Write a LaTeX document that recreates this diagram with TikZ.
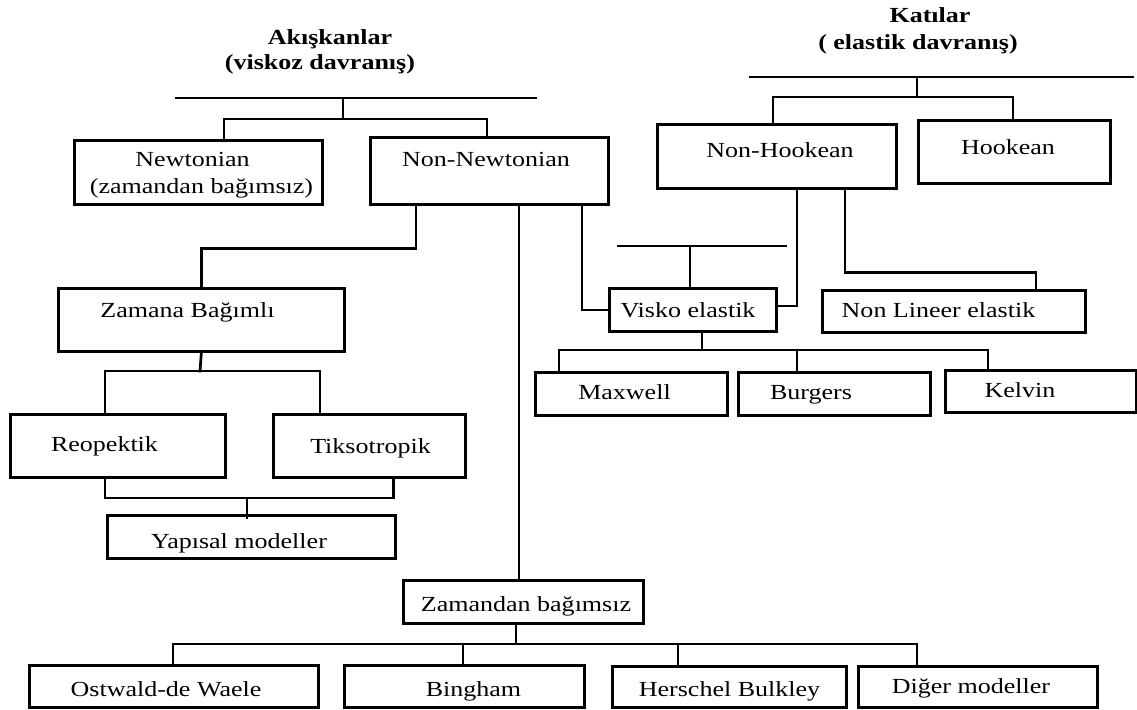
\documentclass[tikz,border=0pt]{standalone}
\usepackage{fontspec}
\setmainfont{Liberation Serif}[FakeStretch=1.21]
\usetikzlibrary{calc}

\tikzset{
  wire/.style={line width=2.7pt, line cap=rect},
  box/.style={draw, line width=2.7pt, inner sep=0pt, anchor=north west},
  lbl/.style={anchor=base, inner sep=0pt, font=\fontsize{21.5}{25}\selectfont},
  ttl/.style={anchor=base, inner sep=0pt, font=\fontsize{21.5}{25}\selectfont\bfseries},
}

\begin{document}
\begin{tikzpicture}[x=1pt, y=-1pt]
\useasboundingbox (0,0) rectangle (1137,709);

% ---------- headings ----------
\node[ttl] (akis)  at (330,45) {Akışkanlar};
\node[ttl] (akis2) at (320,70) {(viskoz davranış)};
\node[ttl] (kati)  at (930,23) {Katılar};
\node[ttl] (kati2) at (918,49) {( elastik davranış)};

% ---------- boxes ----------
\node[box, minimum width=248pt, minimum height=64pt] (newt) at (73,139) {};
\node[box, minimum width=238pt, minimum height=67pt] (nn)   at (369,136) {};
\node[box, minimum width=239pt, minimum height=64pt] (nh)   at (656,123) {};
\node[box, minimum width=192pt, minimum height=63pt] (hk)   at (917,119) {};
\node[box, minimum width=286pt, minimum height=63pt] (zb)   at (57,287) {};
\node[box, minimum width=167pt, minimum height=43pt] (ve)   at (608,287) {};
\node[box, minimum width=263pt, minimum height=42pt] (nl)   at (821,289) {};
\node[box, minimum width=192pt, minimum height=43pt] (mx)   at (534,371) {};
\node[box, minimum width=192pt, minimum height=43pt] (bg)   at (737,371) {};
\node[box, minimum width=191pt, minimum height=42pt] (kv)   at (944,369) {};
\node[box, minimum width=215pt, minimum height=63pt] (re)   at (9,413) {};
\node[box, minimum width=192pt, minimum height=63pt] (tk)   at (272,413) {};
\node[box, minimum width=288pt, minimum height=43pt] (yp)   at (106,514) {};
\node[box, minimum width=240pt, minimum height=43pt] (zm)   at (402,579) {};
\node[box, minimum width=289pt, minimum height=42pt] (ow)   at (28,664) {};
\node[box, minimum width=240pt, minimum height=42pt] (bn)   at (343,664) {};
\node[box, minimum width=234pt, minimum height=41pt] (hb)   at (611,665) {};
\node[box, minimum width=239pt, minimum height=41pt] (dm)   at (857,665) {};

% ---------- box texts ----------
\node[lbl] (newt-a) at (192.5,166) {Newtonian};
\node[lbl] (newt-b) at (201.5,193) {(zamandan bağımsız)};
\node[lbl] (nn-t)   at (486,166)   {Non-Newtonian};
\node[lbl] (nh-t)   at (780,157)   {Non-Hookean};
\node[lbl] (hk-t)   at (1008,154)  {Hookean};
\node[lbl] (zb-t)   at (187.5,317) {Zamana Bağımlı};
\node[lbl] (ve-t)   at (688,317)   {Visko elastik};
\node[lbl] (nl-t)   at (938.5,317) {Non Lineer elastik};
\node[lbl] (mx-t)   at (624.5,399) {Maxwell};
\node[lbl] (bg-t)   at (811,399)   {Burgers};
\node[lbl] (kv-t)   at (1020,397)  {Kelvin};
\node[lbl] (re-t)   at (104.5,451) {Reopektik};
\node[lbl] (tk-t)   at (370.5,453) {Tiksotropik};
\node[lbl] (yp-t)   at (239,548)   {Yapısal modeller};
\node[lbl] (zm-t)   at (526,611)   {Zamandan bağımsız};
\node[lbl] (ow-t)   at (166,696)   {Ostwald-de Waele};
\node[lbl] (bn-t)   at (473.5,696) {Bingham};
\node[lbl] (hb-t)   at (729.5,696) {Herschel Bulkley};
\node[lbl] (dm-t)   at (971,693)   {Diğer modeller};

% ---------- bars and junctions ----------
\coordinate (lbarL) at (176,98);
\coordinate (lbarR) at (536,98);
\coordinate (lj)    at (343,119);
\coordinate (rbarL) at (750,77);
\coordinate (rbarR) at (1133,77);
\coordinate (rj)    at (917,97);
\coordinate (vbarL) at (618,246);
\coordinate (vbarR) at (786,246);
\coordinate (vj)    at (702,350);
\coordinate (zj)    at (200,371);
\coordinate (yj)    at (247,498);
\coordinate (bj)    at (516,644);

% fluids
\draw[wire] (lbarL) -- (lbarR);
\draw[wire] (lj |- lbarL) -- (lj);
\draw[wire] ([xshift=151pt]newt.north west) |- (lj) -| ([xshift=118pt]nn.north west);

% solids
\draw[wire] (rbarL) -- (rbarR);
\draw[wire] (rj |- rbarL) -- (rj);
\draw[wire] ([xshift=117pt]nh.north west) |- (rj) -| ([xshift=96pt]hk.north west);

% Non-Newtonian branches
\draw[wire] ([xshift=47pt]nn.south west) -- ++(0,43) -| (zb.north);
\draw[wire] ([xshift=150pt]nn.south west) -- ([xshift=117pt]zm.north west);
\draw[wire] ([xshift=213pt]nn.south west) |- (ve.west);

% Non-Hookean branches
\draw[wire] ([xshift=141pt]nh.south west) |- ([yshift=4pt]ve.east);
\draw[wire] ([xshift=189pt]nh.south west) -- ++(0,83) -| ([xshift=215pt]nl.north west);

% visco-elastic
\draw[wire] (vbarL) -- (vbarR);
\draw[wire] ([xshift=82pt]ve.north west) -- ++(0,-41);
\draw[wire] ([xshift=94pt]ve.south west) -- (vj);
\draw[wire] ([xshift=25pt]mx.north west) |- (vj) -| ([xshift=44pt]kv.north west);
\draw[wire] ([xshift=60pt]bg.north west) -- ++(0,-21);

% time dependent
\draw[wire] (zb.south) -- (zj);
\draw[wire] ([xshift=96pt]re.north west) |- (zj) -| ([xshift=48pt]tk.north west);
\draw[wire] ([xshift=96pt]re.south west) |- (yj) -| ([xshift=-73pt]tk.south east);
\draw[wire] (yj) -- ([xshift=141pt,yshift=-4pt]yp.north west);

% time independent
\draw[wire] ([xshift=114pt]zm.south west) -- (bj);
\draw[wire] ([xshift=145pt]ow.north west) |- (bj) -| ([xshift=60pt]dm.north west);
\draw[wire] ([xshift=120pt]bn.north west) -- ++(0,-20);
\draw[wire] ([xshift=67pt]hb.north west) -- ++(0,-21);
\end{tikzpicture}
\end{document}
